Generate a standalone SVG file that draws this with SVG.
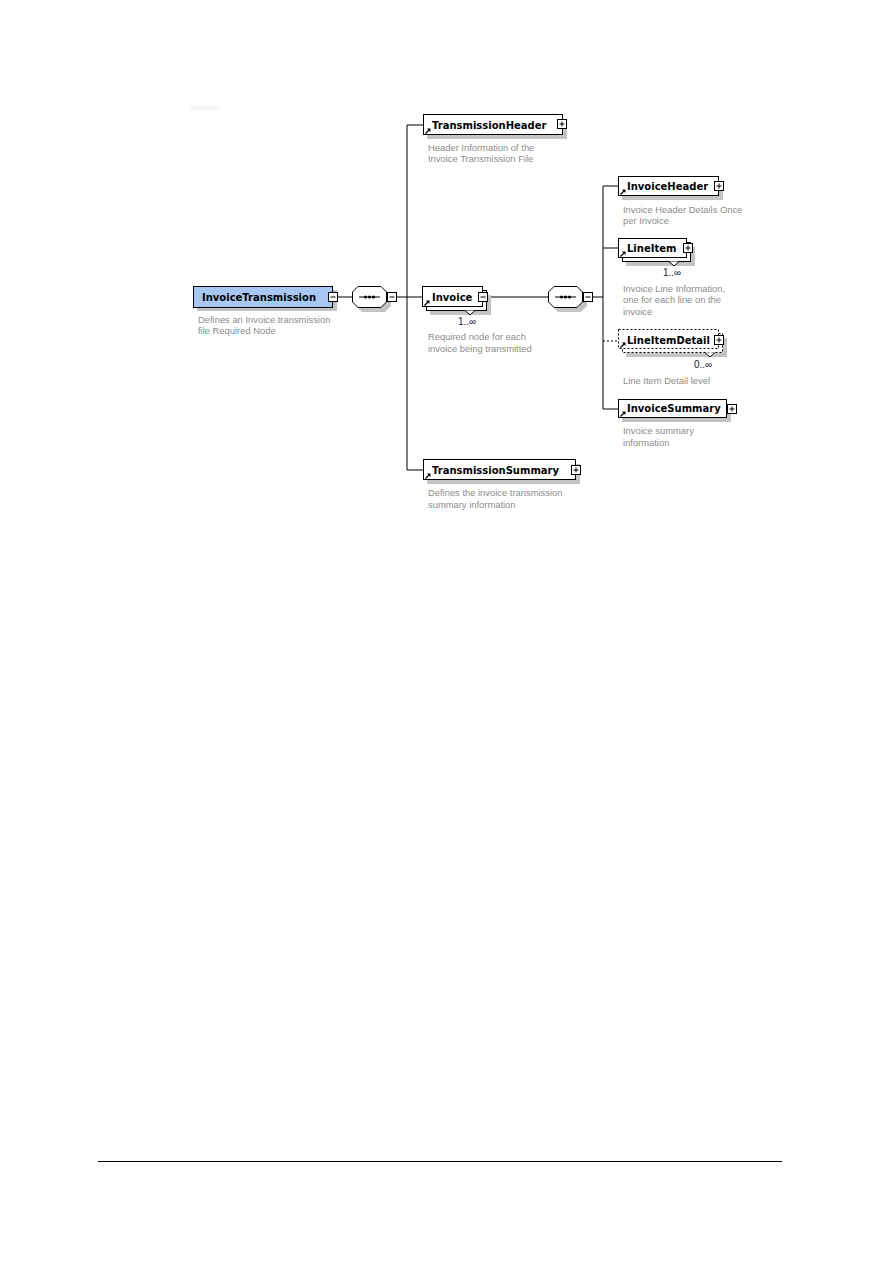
<svg xmlns="http://www.w3.org/2000/svg" width="893" height="1263" viewBox="0 0 893 1263">
  <style>
    .shadow { fill: #c4c4c4; }
    .box { fill: #ffffff; stroke: #000000; stroke-width: 1; }
    .root { fill: #a6c8f2; stroke: #000000; stroke-width: 1; }
    .opt { fill: #ffffff; stroke: #000000; stroke-width: 1; stroke-dasharray: 2 2; }
    .name { font-family: "DejaVu Sans", Verdana, sans-serif; font-size: 10px; font-weight: bold; fill: #000000; }
    .doc { font-family: "Liberation Sans", Arial, sans-serif; font-size: 9.4px; fill: #8c8c8c; }
    .card { font-family: "Liberation Sans", Arial, sans-serif; font-size: 10px; fill: #1a1a40; }
    .wire { stroke: #000000; stroke-width: 1; fill: none; }
    .wire-opt { stroke: #000000; stroke-width: 1; fill: none; stroke-dasharray: 2 2; }
  </style>
  <defs>
    <g id="plus">
      <rect x="0.5" y="0.5" width="9" height="9" fill="#ffffff" stroke="#000000"/>
      <path d="M2.5 5H7.5M5 2.5V7.5" stroke="#000000"/>
    </g>
    <g id="minus">
      <rect x="0.5" y="0.5" width="9" height="9" fill="#ffffff" stroke="#000000"/>
      <path d="M2.5 5H7.5" stroke="#000000"/>
    </g>
    <g id="ref">
      <path d="M0.5 5.5L4.5 1.5" stroke="#000000" stroke-width="1.2"/>
      <path d="M2 0.5H5.5V4Z" fill="#000000"/>
    </g>
    <g id="seq">
      <polygon points="6,0 29,0 35,6 35,16 29,22 6,22 0,16 0,6" transform="translate(4,4)" class="shadow"/>
      <polygon points="6,0.5 29,0.5 34.5,6 34.5,16 29,21.5 6,21.5 0.5,16 0.5,6" fill="#ffffff" stroke="#000000"/>
      <path d="M7 11H28" stroke="#000000"/>
      <circle cx="13.5" cy="11" r="1.5" fill="#000000"/>
      <circle cx="17.5" cy="11" r="1.5" fill="#000000"/>
      <circle cx="21.5" cy="11" r="1.5" fill="#000000"/>
    </g>
  </defs>

  <rect x="191" y="106" width="29" height="4" fill="#f5f5f5"/>

  <!-- connectors -->
  <g id="connectors">
    <path class="wire" d="M338 297H352"/>
    <path class="wire" d="M397 297H407"/>
    <path class="wire" d="M407 125V470"/>
    <path class="wire" d="M407 125H423"/>
    <path class="wire" d="M407 297H422"/>
    <path class="wire" d="M407 470H423"/>
    <path class="wire" d="M488 297H548"/>
    <path class="wire" d="M593 297H603"/>
    <path class="wire" d="M603 186V409"/>
    <path class="wire" d="M603 186H618"/>
    <path class="wire" d="M603 248H618"/>
    <path class="wire-opt" d="M603 341H618"/>
    <path class="wire" d="M603 409H618"/>
  </g>

  <g id="InvoiceTransmission">
    <rect class="shadow" x="197" y="290" width="140" height="21"/>
    <rect class="root" x="193.5" y="286.5" width="139" height="21"/>
    <text class="name" x="202" y="301">InvoiceTransmission</text>
    <use href="#minus" x="328" y="292"/>
    <text class="doc" x="198" y="323">Defines an Invoice transmission</text>
    <text class="doc" x="198" y="334">file Required Node</text>
  </g>

  <g id="sequence1">
    <use href="#seq" x="352" y="286"/>
    <use href="#minus" x="387" y="292"/>
  </g>

  <g id="TransmissionHeader">
    <rect class="shadow" x="427" y="119" width="140" height="20"/>
    <rect class="box" x="423.5" y="114.5" width="139" height="20"/>
    <use href="#ref" x="425" y="128"/>
    <text class="name" x="432" y="129">TransmissionHeader</text>
    <use href="#plus" x="557" y="119"/>
    <text class="doc" x="428" y="151">Header Information of the</text>
    <text class="doc" x="428" y="162">Invoice Transmission File</text>
  </g>

  <g id="Invoice">
    <rect class="shadow" x="430" y="295" width="61" height="20"/>
    <rect class="box" x="426.5" y="290.5" width="60" height="20"/>
    <rect class="box" x="422.5" y="286.5" width="60" height="20"/>
    <use href="#ref" x="424" y="300"/>
    <text class="name" x="432" y="301">Invoice</text>
    <use href="#minus" x="478" y="292"/>
    <path d="M465 310.5L470 315L475 310.5" fill="#ffffff" stroke="#000000"/>
    <text class="card" x="458" y="325">1..∞</text>
    <text class="doc" x="428" y="340">Required node for each</text>
    <text class="doc" x="428" y="352">invoice being transmitted</text>
  </g>

  <g id="sequence2">
    <use href="#seq" x="548" y="286"/>
    <use href="#minus" x="583" y="292"/>
  </g>

  <g id="InvoiceHeader">
    <rect class="shadow" x="622" y="181" width="101" height="19"/>
    <rect class="box" x="618.5" y="176.5" width="100" height="19"/>
    <use href="#ref" x="620" y="189"/>
    <text class="name" x="627" y="190">InvoiceHeader</text>
    <use href="#plus" x="714" y="181"/>
    <text class="doc" x="623" y="213">Invoice Header Details Once</text>
    <text class="doc" x="623" y="224">per Invoice</text>
  </g>

  <g id="LineItem">
    <rect class="shadow" x="626" y="247" width="69" height="19"/>
    <rect class="box" x="622.5" y="242.5" width="68" height="19"/>
    <rect class="box" x="618.5" y="238.5" width="68" height="19"/>
    <use href="#ref" x="620" y="251"/>
    <text class="name" x="627" y="252">LineItem</text>
    <use href="#plus" x="683" y="243"/>
    <path d="M669 261.5L674 266L679 261.5" fill="#ffffff" stroke="#000000"/>
    <text class="card" x="663" y="276">1..∞</text>
    <text class="doc" x="623" y="292">Invoice Line Information,</text>
    <text class="doc" x="623" y="303">one for each line on the</text>
    <text class="doc" x="623" y="315">invoice</text>
  </g>

  <g id="LineItemDetail">
    <rect class="shadow" x="626" y="338" width="101" height="19"/>
    <rect class="opt" x="622.5" y="333.5" width="100" height="19"/>
    <rect class="opt" x="618.5" y="329.5" width="100" height="19" fill="#ffffff"/>
    <use href="#ref" x="620" y="342"/>
    <text class="name" x="627" y="344">LineItemDetail</text>
    <use href="#plus" x="714" y="335"/>
    <path d="M705 352.5L710 357L715 352.5" fill="#ffffff" stroke="#000000"/>
    <text class="card" x="694" y="368">0..∞</text>
    <text class="doc" x="623" y="384">Line Item Detail level</text>
  </g>

  <g id="InvoiceSummary">
    <rect class="shadow" x="622" y="404" width="109" height="18"/>
    <rect class="box" x="618.5" y="399.5" width="108" height="18"/>
    <use href="#ref" x="620" y="411"/>
    <text class="name" x="627" y="412">InvoiceSummary</text>
    <use href="#plus" x="727" y="404"/>
    <text class="doc" x="623" y="434">Invoice summary</text>
    <text class="doc" x="623" y="446">information</text>
  </g>

  <g id="TransmissionSummary">
    <rect class="shadow" x="427" y="464" width="153" height="20"/>
    <rect class="box" x="423.5" y="459.5" width="152" height="20"/>
    <use href="#ref" x="425" y="473"/>
    <text class="name" x="432" y="474">TransmissionSummary</text>
    <use href="#plus" x="571" y="465"/>
    <text class="doc" x="428" y="496">Defines the invoice transmission</text>
    <text class="doc" x="428" y="508">summary information</text>
  </g>

  <path d="M98 1161.5H782" stroke="#000000" stroke-width="1.2"/>
</svg>
